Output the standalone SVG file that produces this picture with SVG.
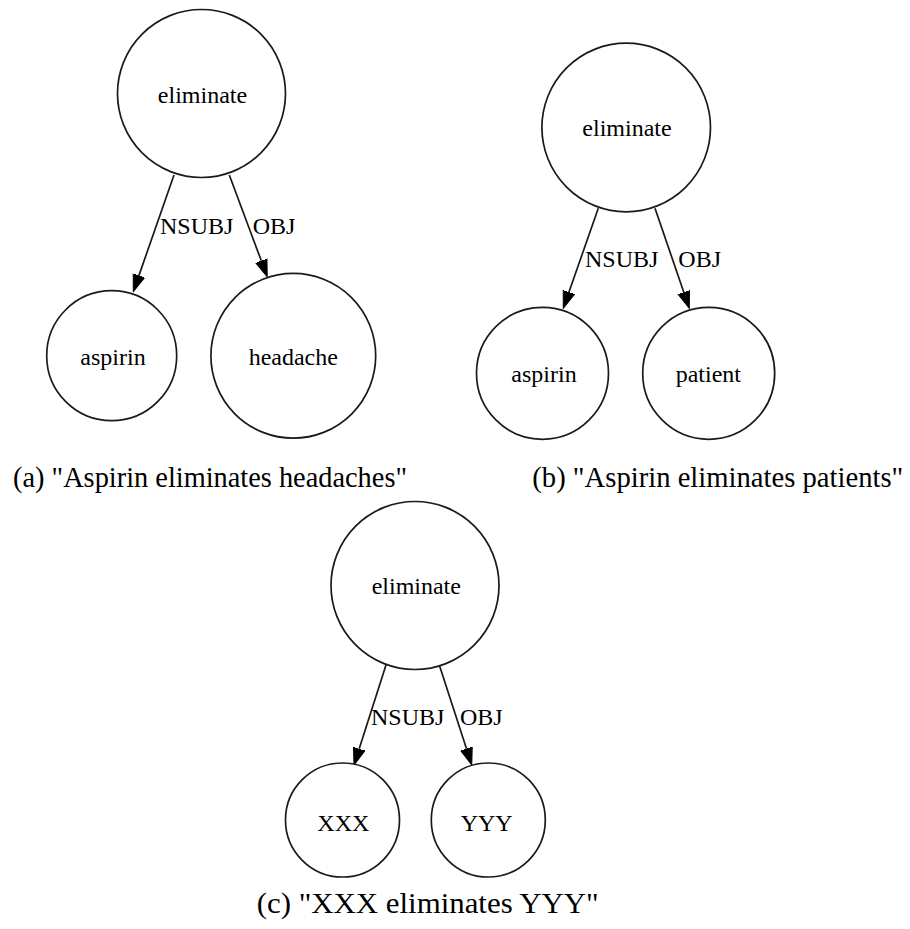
<svg xmlns="http://www.w3.org/2000/svg" width="910" height="929" viewBox="0 0 910 929">
  <style>
    .node { fill: #ffffff; stroke: #1a1a1a; stroke-width: 1.7; }
    .lbl { font-family: "Liberation Serif", "Times New Roman", serif; font-size: 24px; fill: #000; text-anchor: middle; }
    .elbl { font-family: "Liberation Serif", "Times New Roman", serif; font-size: 24px; fill: #000; }
    .edge { fill: none; stroke: #1a1a1a; stroke-width: 1.7; }
    .cap { font-family: "Liberation Serif", "Times New Roman", serif; font-size: 29px; fill: #000; }
  </style>
  <defs>
    <marker id="arrow" markerUnits="userSpaceOnUse" markerWidth="18" markerHeight="14" viewBox="0 -7 18 14" refX="0" refY="0" orient="auto">
      <path d="M0,-6 L17,0 L0,6 z" fill="#000" stroke="#000" stroke-width="1"/>
    </marker>
  </defs>

  <rect width="910" height="929" fill="#ffffff"/>

  <!-- (a) -->
  <g id="connectors-a">
    <path class="edge" d="M174,175 L138.9,275.6" marker-end="url(#arrow)"/>
    <path class="edge" d="M229.3,175 L261.3,260.8" marker-end="url(#arrow)"/>
    <text class="elbl" x="160" y="234">NSUBJ</text>
    <text class="elbl" x="252.7" y="234">OBJ</text>
  </g>
  <g id="a-eliminate">
    <circle class="node" cx="201.5" cy="93.5" r="84"/>
    <text class="lbl" x="202.5" y="103.3">eliminate</text>
  </g>
  <g id="a-aspirin">
    <circle class="node" cx="111.7" cy="355.7" r="65"/>
    <text class="lbl" x="113" y="365">aspirin</text>
  </g>
  <g id="a-headache">
    <circle class="node" cx="293.3" cy="355.8" r="82.4"/>
    <text class="lbl" x="293.3" y="365">headache</text>
  </g>
  <text class="cap" x="13" y="487" textLength="394" lengthAdjust="spacingAndGlyphs">(a) "Aspirin eliminates headaches"</text>

  <!-- (b) -->
  <g id="connectors-b">
    <path class="edge" d="M598.3,208.3 L568.9,292.2" marker-end="url(#arrow)"/>
    <path class="edge" d="M655,208.3 L683.8,292.2" marker-end="url(#arrow)"/>
    <text class="elbl" x="585" y="266.7">NSUBJ</text>
    <text class="elbl" x="678.3" y="266.7">OBJ</text>
  </g>
  <g id="b-eliminate">
    <circle class="node" cx="626.2" cy="127.5" r="84.3"/>
    <text class="lbl" x="627" y="136">eliminate</text>
  </g>
  <g id="b-aspirin">
    <circle class="node" cx="542.5" cy="373.3" r="66"/>
    <text class="lbl" x="544" y="381.7">aspirin</text>
  </g>
  <g id="b-patient">
    <circle class="node" cx="708.7" cy="373.3" r="66"/>
    <text class="lbl" x="708.3" y="381.7">patient</text>
  </g>
  <text class="cap" x="532.3" y="487" textLength="371" lengthAdjust="spacingAndGlyphs">(b) "Aspirin eliminates patients"</text>

  <!-- (c) -->
  <g id="connectors-c">
    <path class="edge" d="M386,665 L359.2,748.8" marker-end="url(#arrow)"/>
    <path class="edge" d="M439.3,665 L466.5,748.8" marker-end="url(#arrow)"/>
    <text class="elbl" x="371" y="725">NSUBJ</text>
    <text class="elbl" x="460" y="725">OBJ</text>
  </g>
  <g id="c-eliminate">
    <circle class="node" cx="415" cy="585.5" r="84"/>
    <text class="lbl" x="416.3" y="594">eliminate</text>
  </g>
  <g id="c-xxx">
    <circle class="node" cx="342.5" cy="820" r="57"/>
    <text class="lbl" x="343.3" y="830.7">XXX</text>
  </g>
  <g id="c-yyy">
    <circle class="node" cx="488.3" cy="820" r="57"/>
    <text class="lbl" x="486.7" y="830.7">YYY</text>
  </g>
  <text class="cap" x="256.7" y="913" textLength="342" lengthAdjust="spacingAndGlyphs">(c) "XXX eliminates YYY"</text>
</svg>
